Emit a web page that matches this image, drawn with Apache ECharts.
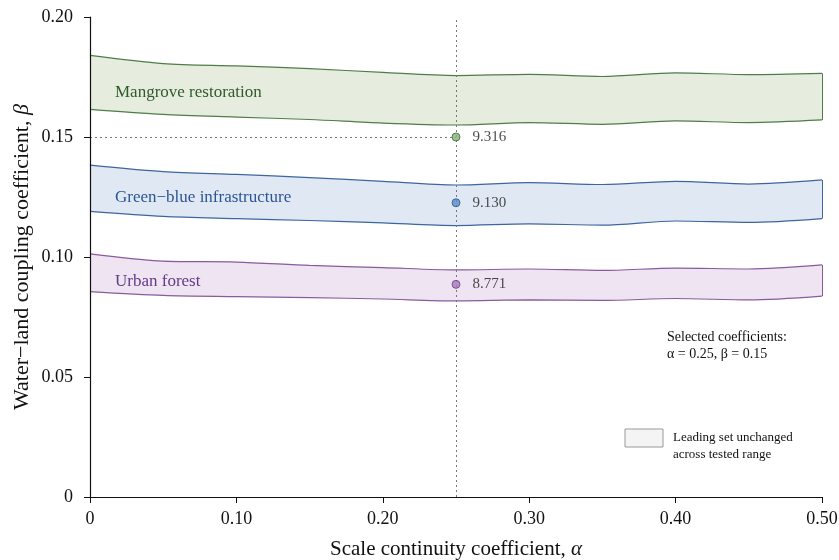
<!DOCTYPE html>
<html>
<head>
<meta charset="utf-8">
<script src="https://cdn.jsdelivr.net/npm/echarts@6/dist/echarts.min.js"></script>
<style>
  html, body { margin: 0; padding: 0; background: #fff; }
  #main { width: 839px; height: 560px; }
</style>
</head>
<body>
<div id="main"></div>
<script>
var alphas = [0, 0.05, 0.10, 0.15, 0.20, 0.25, 0.30, 0.35, 0.40, 0.45, 0.50];

// band edges (beta) read along alpha
var mangroveLow  = [0.1615, 0.1594, 0.1583, 0.1573, 0.1558, 0.1550, 0.1560, 0.1553, 0.1567, 0.1560, 0.1571];
var mangroveHigh = [0.1840, 0.1806, 0.1796, 0.1785, 0.1769, 0.1756, 0.1761, 0.1752, 0.1767, 0.1760, 0.1765];
var greenBlueLow  = [0.1190, 0.1169, 0.1160, 0.1152, 0.1142, 0.1131, 0.1138, 0.1133, 0.1150, 0.1144, 0.1160];
var greenBlueHigh = [0.1383, 0.1356, 0.1344, 0.1331, 0.1315, 0.1300, 0.1310, 0.1302, 0.1315, 0.1304, 0.1321];
var urbanLow  = [0.0856, 0.0840, 0.0835, 0.0831, 0.0825, 0.0817, 0.0821, 0.0819, 0.0827, 0.0821, 0.0837];
var urbanHigh = [0.1013, 0.0983, 0.0979, 0.0965, 0.0956, 0.0946, 0.0950, 0.0944, 0.0954, 0.0950, 0.0967];

var selAlpha = 0.25, selBeta = 0.15;
var pointNames = ['Mangrove restoration', 'Green−blue infrastructure', 'Urban forest'];
var pointBeta = [0.15, 0.1226, 0.0886];
var pointScore = ['9.316', '9.130', '8.771'];

var FONT = '"Liberation Serif", "DejaVu Serif", serif';
var myChart = echarts.init(document.getElementById('main'));

function pairs(xs, ys) {
  return xs.map(function (x, i) { return [x, ys[i]]; });
}

var bands = [
  { lo: mangroveLow, hi: mangroveHigh, line: '#4f7d47', fill: '#e6eddf' },
  { lo: greenBlueLow, hi: greenBlueHigh, line: '#3d669f', fill: '#e0e8f3' },
  { lo: urbanLow, hi: urbanHigh, line: '#8a5a9c', fill: '#efe4f2' }
];
var dotColors = ['#86b078', '#5a8bcb', '#a679bb'];
var dotBorders = ['#3f6b38', '#2f558a', '#6b3f80'];

// each band: upper edge filled down to 0, lower edge masks it with white
var series = [];
bands.forEach(function (b) {
  series.push({
    type: 'line', smooth: 0.3, symbol: 'none', silent: true,
    lineStyle: { color: b.line, width: 1.2 },
    areaStyle: { color: b.fill, opacity: 1 },
    data: pairs(alphas, b.hi),
    markLine: {
      symbol: 'none', silent: true, label: { show: false },
      lineStyle: { color: b.line, width: 1, type: 'solid' },
      data: [[{ coord: [0.5, b.lo[b.lo.length - 1]] }, { coord: [0.5, b.hi[b.hi.length - 1]] }]]
    }
  });
  series.push({
    type: 'line', smooth: 0.3, symbol: 'none', silent: true,
    lineStyle: { color: b.line, width: 1.2 },
    areaStyle: { color: '#fff', opacity: 1 },
    data: pairs(alphas, b.lo)
  });
});

series.push({
  type: 'scatter', symbolSize: 8, z: 5,
  data: pointBeta.map(function (v, i) {
    return {
      name: pointNames[i], value: [selAlpha, v],
      itemStyle: { color: dotColors[i], borderColor: dotBorders[i], borderWidth: 1 },
      label: { formatter: pointScore[i] }
    };
  }),
  label: { show: true, position: 'right', distance: 12, color: '#1a1a1a', fontFamily: FONT, fontSize: 15 },
  markLine: {
    symbol: 'none', silent: true, label: { show: false },
    lineStyle: { color: '#777', width: 1, type: [2, 3] },
    data: [
      [{ coord: [selAlpha, 0] }, { coord: [selAlpha, 0.20] }],
      [{ coord: [0, selBeta] }, { coord: [selAlpha, selBeta] }]
    ]
  }
});

function fmt(v) { return v === 0 ? '0' : v.toFixed(2); }

var option = {
  backgroundColor: '#fff',
  animation: false,
  grid: { left: 90, right: 17, top: 17, bottom: 63, outerBoundsMode: 'none' },
  xAxis: {
    type: 'value', min: 0, max: 0.5, interval: 0.1, z: 10,
    name: 'Scale continuity coefficient, {i|α}',
    nameLocation: 'middle', nameGap: 42,
    nameTextStyle: { fontFamily: FONT, fontSize: 21, color: '#111', rich: { i: { fontStyle: 'italic', fontFamily: FONT, fontSize: 21 } } },
    axisLine: { lineStyle: { color: '#111', width: 1.2 } },
    axisTick: { length: 6, lineStyle: { color: '#111' } },
    axisLabel: { formatter: fmt, fontFamily: FONT, fontSize: 18, color: '#111', margin: 13 },
    splitLine: { show: false }
  },
  yAxis: {
    type: 'value', min: 0, max: 0.2, interval: 0.05, z: 10,
    name: 'Water−land coupling coefficient, {i|β}',
    nameLocation: 'middle', nameGap: 57, nameMoveOverlap: false,
    nameTextStyle: { fontFamily: FONT, fontSize: 22, color: '#111', rich: { i: { fontStyle: 'italic', fontFamily: FONT, fontSize: 22 } } },
    axisLine: { show: true, lineStyle: { color: '#111', width: 1.2 } },
    axisTick: { show: true, length: 6, lineStyle: { color: '#111' } },
    axisLabel: { formatter: fmt, fontFamily: FONT, fontSize: 18, color: '#111', margin: 17 },
    splitLine: { show: false }
  },
  graphic: [
    { type: 'text', z: 100, left: 115, top: 84, style: { text: 'Mangrove restoration', font: '17px ' + FONT, fill: '#2f5a2a' } },
    { type: 'text', z: 100, left: 115, top: 189, style: { text: 'Green−blue infrastructure', font: '17px ' + FONT, fill: '#2d5592' } },
    { type: 'text', z: 100, left: 115, top: 273, style: { text: 'Urban forest', font: '17px ' + FONT, fill: '#623a86' } },
    { type: 'text', z: 100, left: 667, top: 329, style: { text: 'Selected coefficients:\nα = 0.25, β = 0.15', font: '14px ' + FONT, fill: '#111', lineHeight: 17 } },
    { type: 'rect', z: 100, shape: { x: 625, y: 429, width: 38, height: 18 }, style: { fill: '#f4f4f4', stroke: '#999', lineWidth: 1 } },
    { type: 'text', z: 100, left: 673, top: 429, style: { text: 'Leading set unchanged\nacross tested range', font: '13px ' + FONT, fill: '#111', lineHeight: 17 } }
  ],
  series: series
};

myChart.setOption(option);
</script>
</body>
</html>
